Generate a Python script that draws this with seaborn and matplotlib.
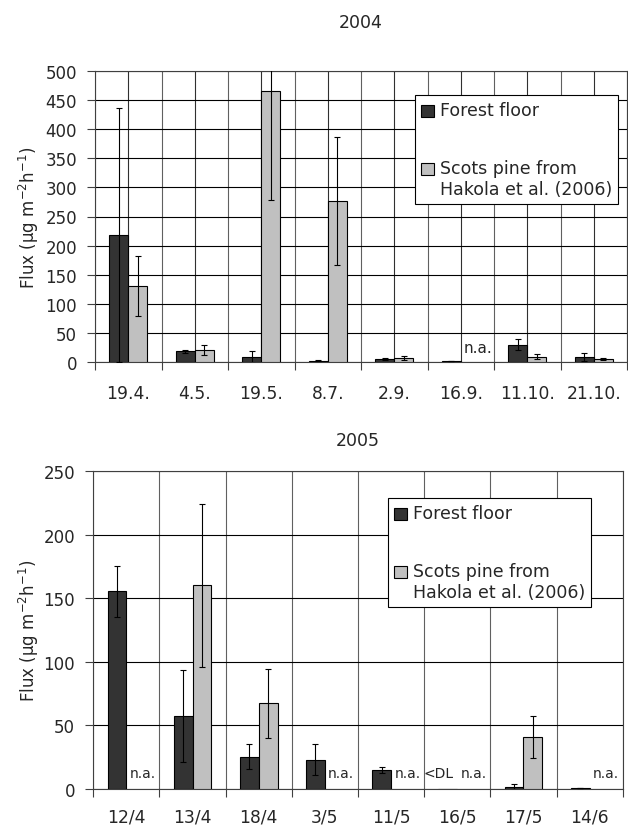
import numpy as np
import pandas as pd
import matplotlib.pyplot as plt
import seaborn as sns

# 2004 campaign
dates_2004 = ['19.4.', '4.5.', '19.5.', '8.7.', '2.9.', '16.9.', '11.10.', '21.10.']
floor_2004 = [218, 18.4, 8.6, 2, 5.2, 1.5, 29.8, 8]
floor_err_2004 = [218, 3, 11, 1, 1, 0.5, 9.5, 7]
pine_2004 = [130.5, 20.6, 465, 276.5, 7.5, np.nan, 9.2, 5.2]
pine_err_2004 = [52, 9, 186, 110, 3.5, np.nan, 4.5, 2.5]

# 2005 campaign
dates_2005 = ['12/4', '13/4', '18/4', '3/5', '11/5', '16/5', '17/5', '14/6']
floor_2005 = [155.3, 57.2, 25.4, 23, 15, 0.3, 1.6, 0.8]
floor_err_2005 = [20, 36, 9.6, 12, 2.5, 0, 2.4, 0.3]
pine_2005 = [np.nan, 160, 67.4, np.nan, np.nan, np.nan, 40.7, np.nan]
pine_err_2005 = [np.nan, 64, 27, np.nan, np.nan, np.nan, 16.5, np.nan]

series_names = ['Forest floor', 'Scots pine from\nHakola et al. (2006)']
below_dl_2005 = ['16/5']

sns.set_style('white')
plt.rcParams['font.family'] = ['DejaVu Sans']
plt.rcParams['mathtext.default'] = 'regular'

fig = plt.figure(figsize=(6.28, 8.29), dpi=100)
W, H = 628, 829


def draw_panel(ax, dates, floor, floor_err, pine, pine_err, ymax, half_grid,
               na_size, na_y, label_pad, legend_anchor):
    n = len(dates)
    df = pd.DataFrame({
        'Date': dates * 2,
        'Flux': list(floor) + list(pine),
        'Series': [series_names[0]] * n + [series_names[1]] * n,
    })
    errs = {series_names[0]: list(floor_err), series_names[1]: list(pine_err)}

    sns.barplot(data=df, x='Date', y='Flux', hue='Series', order=dates,
                hue_order=series_names, palette=['#333333', '#c0c0c0'],
                width=0.57, gap=0, edgecolor='black', linewidth=0.8,
                errorbar=None, ax=ax, zorder=3)

    # error bars at the centre of every drawn bar
    for name, cont in zip(series_names, ax.containers):
        for bar in cont:
            h = bar.get_height()
            if not np.isfinite(h):
                continue
            xc = bar.get_x() + bar.get_width() / 2
            e = errs[name][int(round(xc))]
            if not np.isfinite(e) or e == 0:
                continue
            ax.errorbar(xc, h, yerr=e, fmt='none', ecolor='black',
                        elinewidth=0.8, capsize=2.5, capthick=0.8, zorder=4)

    # n.a. labels where no pine data exist
    for i, v in enumerate(pine):
        if not np.isfinite(v):
            ax.text(i + 0.05, na_y, 'n.a.', ha='left', va='baseline',
                    fontsize=na_size, zorder=5)

    ax.set_xlim(-0.5, n - 0.5)
    ax.set_ylim(0, ymax)
    ax.set_yticks(np.arange(0, ymax + 1, 50))
    ax.set_xticks(np.arange(-0.5, n, 1), labels=[''] * (n + 1))
    ax.set_xticks(np.arange(n), labels=dates, minor=True)
    ax.tick_params(axis='x', which='major', length=6, width=0.8,
                   color='#404040', direction='out', bottom=True)
    ax.tick_params(axis='x', which='minor', length=0, pad=label_pad,
                   labelsize=12.3)
    ax.tick_params(axis='y', length=6, width=0.8, color='#404040',
                   direction='out', left=True, pad=7, labelsize=12)
    ax.set_xlabel('')
    ax.set_ylabel('')

    ax.set_axisbelow(True)
    ax.yaxis.grid(True, color='black', linewidth=0.8)
    ax.xaxis.grid(True, which='major', color='#606060', linewidth=0.8)
    if half_grid:
        ax.xaxis.grid(True, which='minor', color='#303030', linewidth=0.8)
    for sp in ax.spines.values():
        sp.set_visible(True)
        sp.set_color('#404040')
        sp.set_linewidth(0.8)

    leg = ax.get_legend()
    handles = leg.legend_handles
    labels = [t.get_text() for t in leg.get_texts()]
    for hd in handles:
        hd.set_edgecolor('black')
        hd.set_linewidth(0.8)
    leg = ax.legend(handles, labels, loc='upper right',
                    bbox_to_anchor=legend_anchor, fontsize=12.5, frameon=True,
                    fancybox=False, shadow=False, framealpha=1,
                    edgecolor='black', borderpad=0.35, labelspacing=2.3,
                    handlelength=0.7, handleheight=0.7, handletextpad=0.35,
                    borderaxespad=0)
    leg.get_frame().set_linewidth(0.8)
    # put the swatch next to the first line of a two-line label
    for column in leg._legend_handle_box.get_children():
        for row in column.get_children():
            row.align = 'top'
            row.get_children()[0].height += 3


# top panel (2004)
top = [95, 72, 627, 363]
ax1 = fig.add_axes([top[0] / W, 1 - top[3] / H, (top[2] - top[0]) / W,
                    (top[3] - top[1]) / H])
draw_panel(ax1, dates_2004, floor_2004, floor_err_2004, pine_2004, pine_err_2004,
           500, True, 11, 17.7, 16, (0.983, 0.9175))

# bottom panel (2005)
bot = [93.3, 472, 622.7, 790]
ax2 = fig.add_axes([bot[0] / W, 1 - bot[3] / H, (bot[2] - bot[0]) / W,
                    (bot[3] - bot[1]) / H])
draw_panel(ax2, dates_2005, floor_2005, floor_err_2005, pine_2005, pine_err_2005,
           250, False, 10, 9.4, 13, (0.940, 0.915))
for d in below_dl_2005:
    ax2.text(dates_2005.index(d) - 0.29, 9.4, '<DL', ha='center', va='baseline',
             fontsize=10, zorder=5)

# titles and y labels
ylab = 'Flux (µg m$^{-2}$h$^{-1}$)'
fig.text((top[0] + top[2]) / 2 / W, 1 - 23 / H, '2004', ha='center',
         va='center', fontsize=12.5)
fig.text((bot[0] + bot[2]) / 2 / W, 1 - 441 / H, '2005', ha='center',
         va='center', fontsize=12.5)
fig.text(29 / W, 1 - (top[1] + top[3]) / 2 / H, ylab, rotation=90,
         ha='center', va='center', fontsize=12)
fig.text(29 / W, 1 - (bot[1] + bot[3]) / 2 / H, ylab, rotation=90,
         ha='center', va='center', fontsize=12)

fig.savefig('out.png', dpi=100)
